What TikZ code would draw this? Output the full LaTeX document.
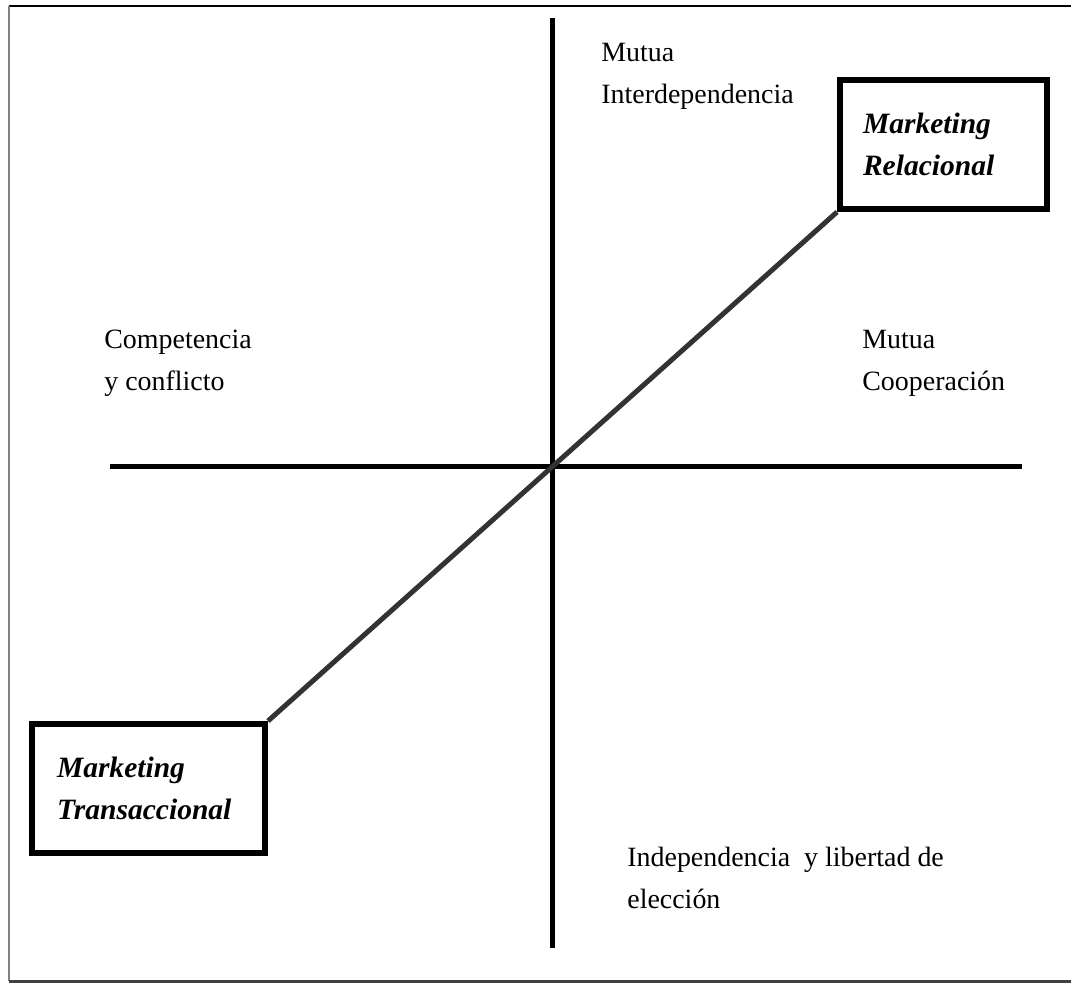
\documentclass[tikz,border=0pt]{standalone}
\usepackage{fontspec}
\setmainfont{Liberation Serif}
\usepackage{tikz}

\tikzset{
	eje/.style={line width=.1cm},
	caja/.style={draw, line width=.12cm, align=left, inner ysep=0pt,
		font=\bfseries\itshape\fontsize{16.8}{23.9}\selectfont},
	rotulo/.style={anchor=base west, align=left, inner sep=0pt,
		font=\fontsize{15.9}{23.9}\selectfont}
}

\begin{document}
\begin{tikzpicture}[x=.02cm, y=-.02cm]
	\useasboundingbox (0,0) rectangle (1071,987);
	% marco
	\draw[line width=.04cm] (9,6) -- (1071,6);
	\draw[line width=.04cm, gray] (9,6) -- (9,981);
	\draw[line width=.06cm, black!75] (9,981) -- (1071,981);
	% ejes
	\coordinate (n) at (552,18);
	\coordinate (s) at (552,948);
	\coordinate (w) at (110,466);
	\coordinate (e) at (1022,466);
	\draw[eje] (n) -- (s);
	\draw[eje] (w) -- (e);
	% cajas
	\node[caja, minimum width=4.14cm, minimum height=2.58cm, text width=3.22cm,
		inner xsep=.46cm] (rel) at (943.5,144.5) {Marketing\\Relacional};
	\node[caja, minimum width=4.66cm, minimum height=2.58cm, text width=3.66cm,
		inner xsep=.5cm] (trans) at (148.5,788.5) {Marketing\\Transaccional};
	\draw[line width=.1cm, black!80] (trans.north east) -- (rel.south west);
	% rotulos (base = ultima linea)
	\node[rotulo] (inter) at (601,103) {Mutua\\Interdependencia};
	\node[rotulo] (comp) at (104,390) {Competencia\\y conflicto};
	\node[rotulo] (coop) at (862,390) {Mutua\\Cooperación};
	\node[rotulo] (indep) at (627,908) {Independencia\ \ y libertad de\\elección};
\end{tikzpicture}
\end{document}
